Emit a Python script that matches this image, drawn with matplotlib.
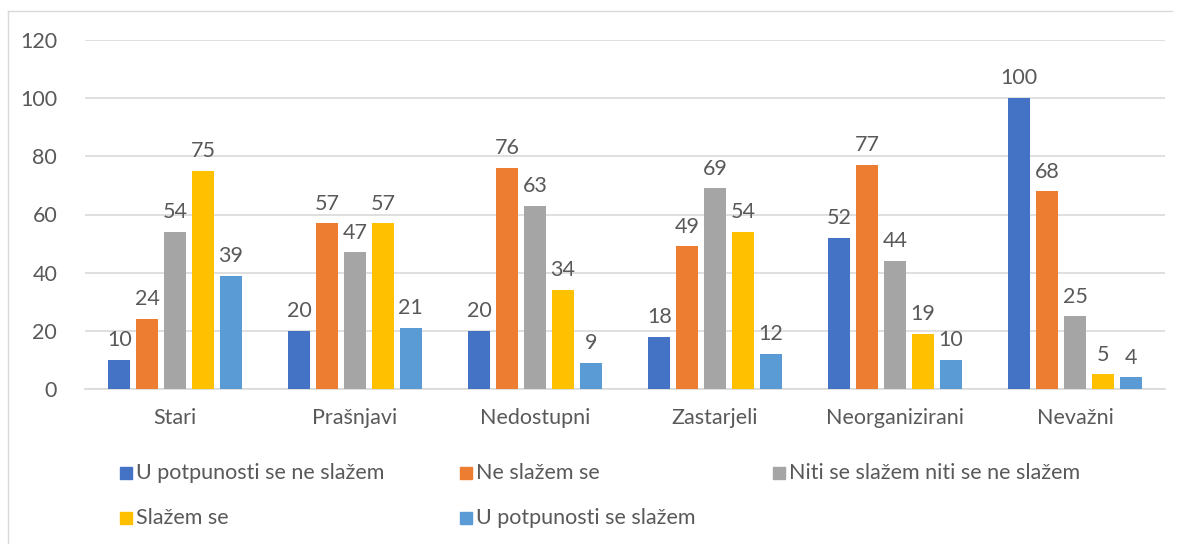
import matplotlib
matplotlib.use('Agg')
import matplotlib.pyplot as plt
import matplotlib.patches as mpatches
from matplotlib.lines import Line2D
import numpy as np

# ── Data ──
categories = ['Stari', 'Prašnjavi', 'Nedostupni', 'Zastarjeli', 'Neorganizirani', 'Nevažni']
series_names = ['U potpunosti se ne slažem', 'Ne slažem se',
                'Niti se slažem niti se ne slažem', 'Slažem se',
                'U potpunosti se slažem']
u_potpunosti_ne = [10, 20, 20, 18, 52, 100]
ne_slazem = [24, 57, 76, 49, 77, 68]
niti_niti = [54, 47, 63, 69, 44, 25]
slazem = [75, 57, 34, 54, 19, 5]
u_potpunosti_da = [39, 21, 9, 12, 10, 4]
yticks = [0, 20, 40, 60, 80, 100, 120]

series = [u_potpunosti_ne, ne_slazem, niti_niti, slazem, u_potpunosti_da]
colors = ['#4472C4', '#ED7D31', '#A5A5A5', '#FFC000', '#5B9BD5']

TXT = '#595959'
FONT = 'Lato'
FS = 15.5

W, H = 1182, 544
fig = plt.figure(figsize=(W / 100, H / 100), dpi=100)
ax = fig.add_axes([85 / W, 1 - 389 / H, (1165 - 85) / W, (389 - 40) / H])

x = np.arange(len(categories))
BAR_W = 0.122
STEP = 0.155
for k, (vals, col) in enumerate(zip(series, colors)):
    pos = x + (k - 2) * STEP
    ax.bar(pos, vals, width=BAR_W, color=col, zorder=3)
    for px, v in zip(pos, vals):
        ax.annotate(str(v), (px, v), xytext=(0, 7), textcoords='offset points',
                    ha='center', va='bottom', fontsize=FS, color=TXT, family=FONT)

ax.set_xlim(-0.5, len(categories) - 0.5)
ax.set_ylim(0, 120)
ax.set_yticks(yticks)
ax.set_yticklabels([str(t) for t in yticks], fontsize=FS, color=TXT, family=FONT)
ax.set_xticks(x)
ax.set_xticklabels(categories, fontsize=FS, color=TXT, family=FONT)
ax.tick_params(axis='both', length=0)
ax.tick_params(axis='y', pad=20)
ax.tick_params(axis='x', pad=14)
ax.grid(axis='y', color='#D9D9D9', linewidth=1.2, zorder=0)
for s in ['top', 'right', 'left']:
    ax.spines[s].set_visible(False)
ax.spines['bottom'].set_color('#D9D9D9')
ax.spines['bottom'].set_linewidth(1.2)

# ── Legend (Excel-style grid) ──
legend_pos = [(120, 473), (460, 473), (773, 473), (120, 518), (460, 518)]
for (lx, ly), name, col in zip(legend_pos, series_names, colors):
    fig.add_artist(mpatches.Rectangle((lx / W, 1 - (ly + 6) / H), 12 / W, 12 / H,
                                      transform=fig.transFigure, color=col))
    fig.text((lx + 16) / W, 1 - ly / H, name, ha='left', va='center',
             fontsize=FS, color=TXT, family=FONT)

# chart border
fig.add_artist(Line2D([8 / W, 8 / W], [0, 1 - 11 / H], transform=fig.transFigure,
                      color='#D9D9D9', linewidth=1))
fig.add_artist(Line2D([8 / W, 1172 / W], [1 - 11 / H, 1 - 11 / H],
                      transform=fig.transFigure, color='#D9D9D9', linewidth=1))

fig.savefig('out.png', dpi=100)
